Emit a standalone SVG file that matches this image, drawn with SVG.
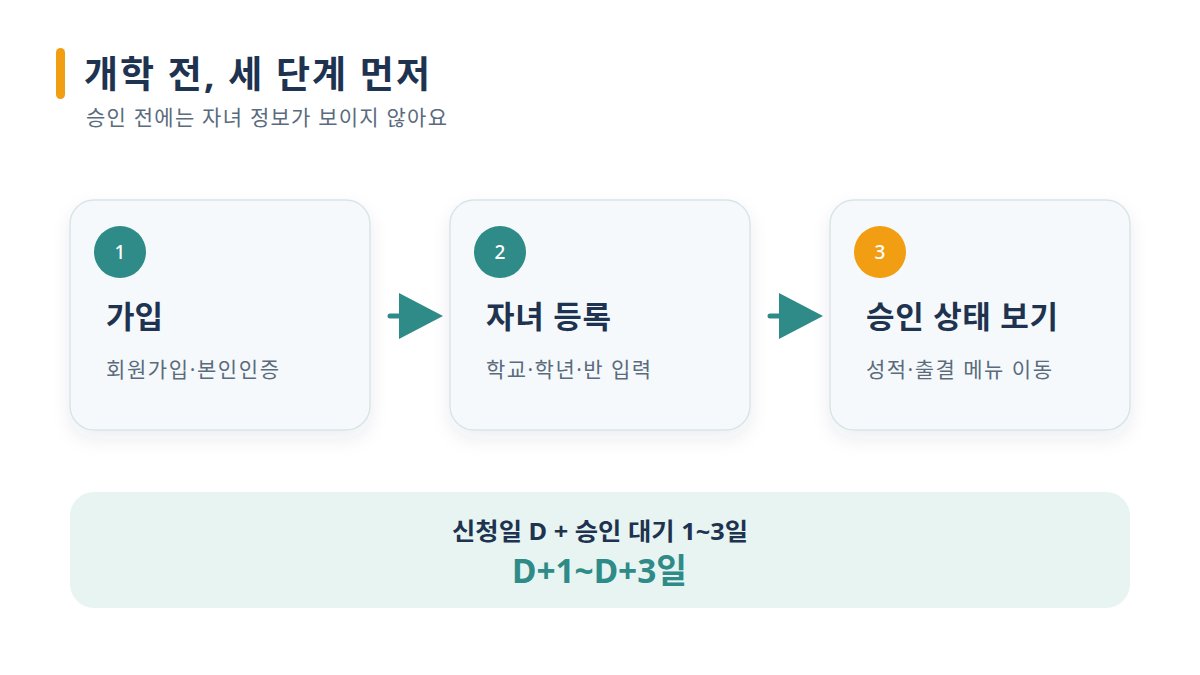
<svg xmlns="http://www.w3.org/2000/svg" width="1200" height="675" viewBox="0 0 1200 675">
<defs>
<filter id="sh" x="-20%" y="-20%" width="140%" height="150%">
<feDropShadow dx="0" dy="8" stdDeviation="9" flood-color="#1e3350" flood-opacity="0.08"/>
</filter>
<style>
text{font-family:"Noto Sans","Noto Sans CJK KR",sans-serif}
.card{fill:#f6f9fb;stroke:#d9e4e9;stroke-width:1.5}
.num{fill:#ffffff;font-size:19px;font-weight:500;text-anchor:middle}
.ttl{fill:#1e3350;font-size:31px;font-weight:700}
.sub{fill:#5a6b7d;font-size:21px}
.arr{fill:#2e8b87}
.arl{stroke:#2e8b87;stroke-width:5;stroke-linecap:round}
</style>
</defs>
<rect width="1200" height="675" fill="#ffffff"/>
<g id="header">
<rect x="56" y="48" width="9" height="51" rx="4.5" fill="#f29e12"/>
<text x="84" y="88" font-size="37" font-weight="700" fill="#1e3350" textLength="346">개학 전, 세 단계 먼저</text>
<text x="86" y="125" class="sub" textLength="361">승인 전에는 자녀 정보가 보이지 않아요</text>
</g>
<g id="step1">
<rect x="70" y="200" width="300" height="230" rx="24" class="card" filter="url(#sh)"/>
<circle cx="120" cy="252" r="26" fill="#2e8b87"/>
<text x="120" y="259" class="num">1</text>
<text x="106" y="328" class="ttl" textLength="57">가입</text>
<text x="106" y="377" class="sub" textLength="173">회원가입·본인인증</text>
</g>
<g id="step2">
<rect x="450" y="200" width="300" height="230" rx="24" class="card" filter="url(#sh)"/>
<circle cx="500" cy="252" r="26" fill="#2e8b87"/>
<text x="500" y="259" class="num">2</text>
<text x="486" y="328" class="ttl" textLength="125">자녀 등록</text>
<text x="486" y="377" class="sub" textLength="165">학교·학년·반 입력</text>
</g>
<g id="step3">
<rect x="830" y="200" width="300" height="230" rx="24" class="card" filter="url(#sh)"/>
<circle cx="880" cy="252" r="26" fill="#f29e12"/>
<text x="880" y="259" class="num">3</text>
<text x="866" y="328" class="ttl" textLength="192">승인 상태 보기</text>
<text x="866" y="377" class="sub" textLength="186">성적·출결 메뉴 이동</text>
</g>
<g id="connectors">
<line x1="390" y1="316" x2="402" y2="316" class="arl"/>
<polygon points="399,293 443,316 399,339" class="arr"/>
<line x1="770" y1="316" x2="782" y2="316" class="arl"/>
<polygon points="779,293 823,316 779,339" class="arr"/>
</g>
<g id="summary">
<rect x="70" y="492" width="1060" height="116" rx="24" fill="#e7f4f1"/>
<text x="452" y="540" font-size="24" font-weight="700" fill="#1e3350" textLength="296" lengthAdjust="spacingAndGlyphs">신청일 D + 승인 대기 1~3일</text>
<text x="512" y="583" font-size="34" font-weight="700" fill="#2e8b87" textLength="175" lengthAdjust="spacingAndGlyphs">D+1~D+3일</text>
</g>
</svg>
